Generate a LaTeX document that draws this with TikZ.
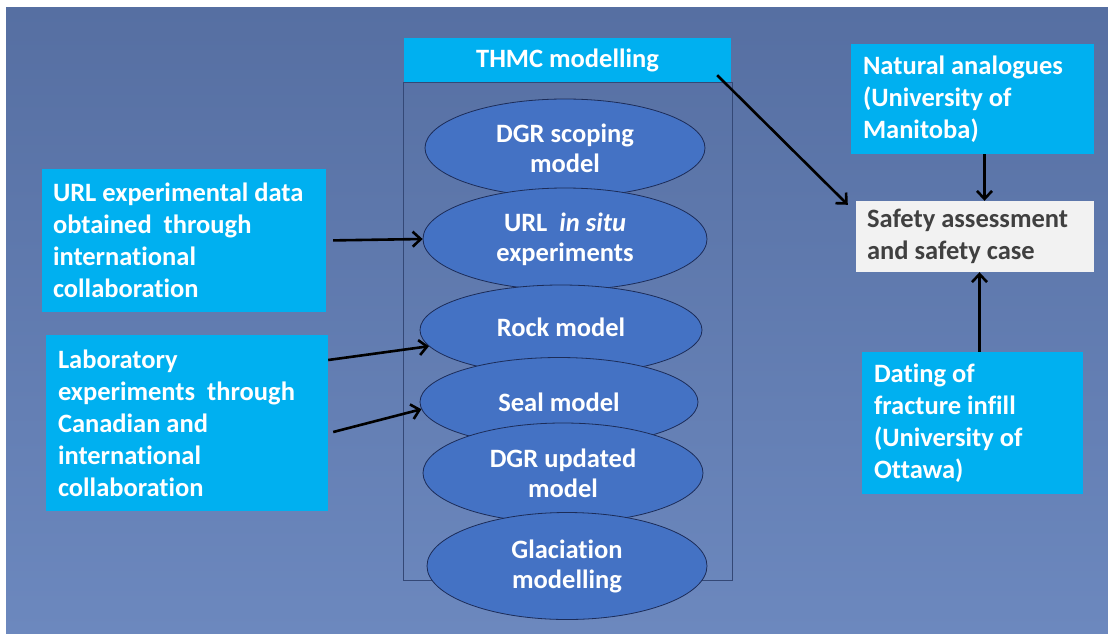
\documentclass[tikz,border=0pt]{standalone}
\usepackage{fontspec}
\setmainfont{Carlito}[Ligatures=NoCommon]
\usepackage{xcolor}
\usepackage{tikz}
\usetikzlibrary{shapes.geometric, arrows.meta, positioning, calc}
\definecolor{bgtop}{RGB}{86, 111, 162}
\definecolor{bgbottom}{RGB}{108, 136, 190}
\definecolor{cyanbox}{RGB}{0, 176, 240}
\definecolor{ellfill}{RGB}{68, 114, 196}
\definecolor{ellline}{RGB}{28, 44, 88}
\definecolor{framecol}{RGB}{52, 72, 118}
\definecolor{safetybg}{RGB}{242, 242, 242}
\definecolor{safetytext}{RGB}{64, 64, 64}

\begin{document}
\begin{tikzpicture}[
				x=1pt, y=-1pt,
				txt/.style={font=\fontsize{26.5}{32}\selectfont\bfseries},
				infobox/.style={rectangle, fill=cyanbox, text=white, txt, align=flush left, inner xsep=11pt, inner ysep=0pt},
				modelell/.style={ellipse, draw=ellline, line width=0.8pt, fill=ellfill, text=white, txt, align=flush center, inner sep=0pt, minimum width=280pt, minimum height=100pt},
				arrow/.style={-{Straight Barb[length=8pt, width=15pt]}, line width=2.6pt, black}
				]
				\useasboundingbox (0,0) rectangle (1108,633);
				\shade[top color=bgtop, bottom color=bgbottom] (6,7) rectangle (1108,633);
				
				\node[rectangle, draw=framecol, line width=0.7pt, minimum width=329pt, minimum height=498pt, inner sep=0pt] (frame) at (567.5,331) {};
				\node[rectangle, fill=cyanbox, text=white, txt, minimum width=327pt, minimum height=44pt, inner sep=0pt] (thmc) at (567.5,60) {THMC modelling};
				
				\node[modelell, minimum height=98pt] (scoping) at (565,148) {DGR scoping\\[-2pt]model};
				\node[modelell, minimum width=284pt, minimum height=102pt] (insitu) at (565,239) {URL\ \ \textit{in situ}\\[-2pt]experiments};
				\node[modelell, minimum width=282pt, minimum height=90pt] (rock) at (561,330) {\raisebox{6pt}{Rock model}};
				\node[modelell, minimum width=278pt, minimum height=89pt] (seal) at (559,402) {Seal model};
				\node[modelell] (updated) at (563,473) {DGR updated\\[-2pt]model};
				\node[modelell, minimum height=107pt] (glaciation) at (567,566) {Glaciation\\[-2pt]modelling};
				
				\node[infobox, text width=262pt, minimum height=143pt] (urlbox) at (184,240.5) {URL experimental data\\obtained\ \ through\\international\\collaboration};
				\node[infobox, inner xsep=12pt, text width=258pt, minimum height=176pt] (labbox) at (187,423) {Laboratory\\experiments\ \ through\\Canadian and\\international\\collaboration};
				\node[infobox, inner xsep=12pt, text width=219pt, minimum height=110pt] (natbox) at (972.5,99) {Natural analogues\\(University of\\Manitoba)};
				\node[rectangle, fill=safetybg, text=safetytext, txt, align=flush left, inner xsep=11pt, inner ysep=0pt, text width=216pt, minimum height=71pt] (safety) at (975,236.5) {Safety assessment\\and safety case};
				\node[infobox, inner xsep=12pt, text width=197pt, minimum height=142pt] (datbox) at (972.5,423) {Dating of\\fracture infill\\(University of\\Ottawa)};
				
				\draw[arrow, shorten <=7pt] (urlbox.east) -- (insitu.west);
				\draw[arrow] ([yshift=63pt]labbox.east) -- (rock.187);
				\draw[arrow] ([xshift=5pt,yshift=-9pt]labbox.east) -- (seal.183);
				\draw[arrow] ([xshift=-14pt,yshift=7pt]thmc.south east) -- ([xshift=-8pt,yshift=-4pt]safety.north west);
				\draw[arrow] ([xshift=12pt]natbox.south) -- ([xshift=12pt]natbox.south |- safety.north);
				\draw[arrow] ([xshift=7pt]datbox.north) -- ([xshift=7pt]datbox.north |- safety.south);
			\end{tikzpicture}
\end{document}
